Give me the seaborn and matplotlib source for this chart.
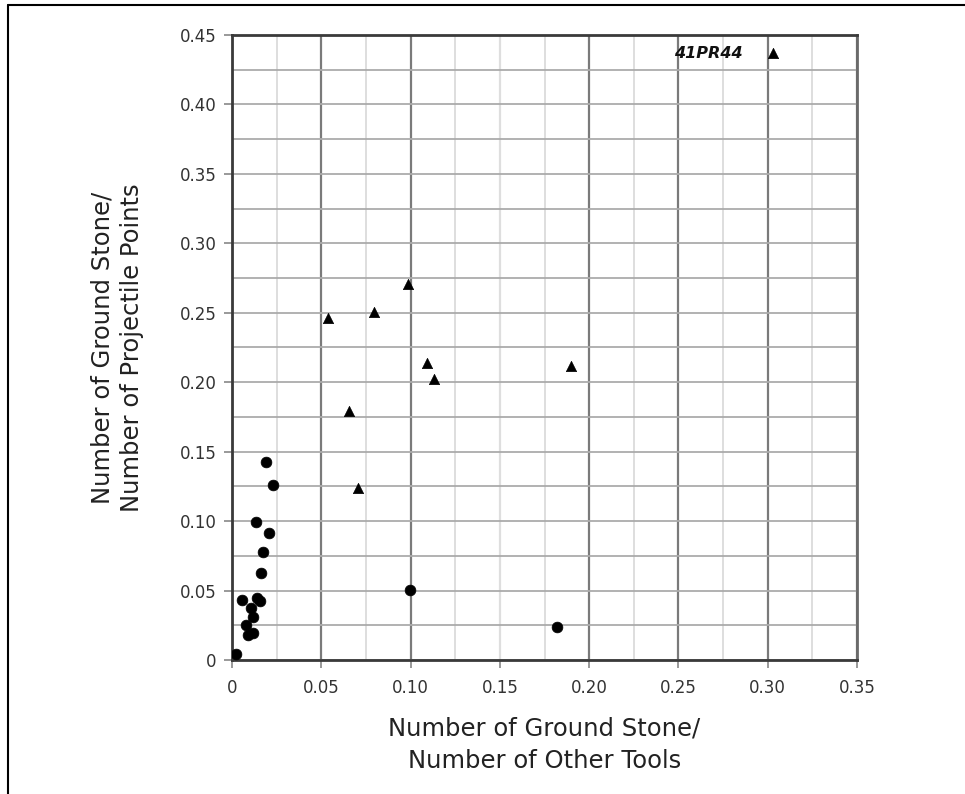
import matplotlib
matplotlib.use("Agg")
import matplotlib.pyplot as plt
import seaborn as sns
import pandas as pd
from matplotlib.lines import Line2D

# Circles (sites with low ratio)
circle_x = [0.019, 0.023, 0.0134, 0.0209, 0.0175, 0.0162, 0.0058, 0.0141, 0.0157,
            0.0105, 0.0119, 0.0077, 0.0091, 0.0119, 0.0022, 0.0996, 0.182]
circle_y = [0.1425, 0.126, 0.0996, 0.0912, 0.0775, 0.0624, 0.0432, 0.0444, 0.0425,
            0.0372, 0.0307, 0.0252, 0.018, 0.0192, 0.0043, 0.0504, 0.024]

# Triangles
tri_x = [0.0535, 0.0796, 0.0986, 0.1094, 0.1131, 0.190, 0.0654, 0.0703, 0.3028]
tri_y = [0.246, 0.2508, 0.2705, 0.2136, 0.2023, 0.2117, 0.1793, 0.124, 0.4368]

label_text = "41PR44"
label_index = 8

x_ticks = [0, 0.05, 0.10, 0.15, 0.20, 0.25, 0.30, 0.35]
x_tick_labels = ["0", "0.05", "0.10", "0.15", "0.20", "0.25", "0.30", "0.35"]
y_ticks = [0, 0.05, 0.10, 0.15, 0.20, 0.25, 0.30, 0.35, 0.40, 0.45]
y_tick_labels = ["0", "0.05", "0.10", "0.15", "0.20", "0.25", "0.30", "0.35", "0.40", "0.45"]

sns.set_theme(style="white")
plt.rcParams['font.family'] = ['DejaVu Sans']

fig = plt.figure(figsize=(9.65, 7.94), dpi=100)
ax = fig.add_axes([0.2404, 0.1688, 0.6477, 0.7872])

df_c = pd.DataFrame({"x": circle_x, "y": circle_y})
df_t = pd.DataFrame({"x": tri_x, "y": tri_y})

sns.scatterplot(data=df_c, x="x", y="y", marker="o", s=60, color="black",
                edgecolor="black", linewidth=0.5, ax=ax, zorder=5)
sns.scatterplot(data=df_t, x="x", y="y", marker="^", s=55, color="black",
                edgecolor="black", linewidth=0.5, ax=ax, zorder=5)

ax.annotate(label_text, xy=(tri_x[label_index], tri_y[label_index]),
            xytext=(-22, 0), textcoords="offset points", ha="right", va="center",
            fontsize=11.5, style="italic", fontweight="semibold", color="#111111")

ax.set_xlim(0, 0.35)
ax.set_ylim(0, 0.45)
ax.set_xticks(x_ticks)
ax.set_xticklabels(x_tick_labels)
ax.set_yticks(y_ticks)
ax.set_yticklabels(y_tick_labels)
ax.set_xticks([0.025 + 0.05 * i for i in range(7)], minor=True)
ax.set_yticks([0.025 + 0.05 * i for i in range(9)], minor=True)

ax.tick_params(axis="both", which="major", length=6, width=1.2, color="#888888",
               labelsize=12, labelcolor="#333333", direction="out")
ax.tick_params(axis="x", which="major", pad=8, bottom=True)
ax.tick_params(axis="y", which="major", pad=5, left=True)
ax.tick_params(which="minor", length=0)

ax.grid(False)
ax.xaxis.grid(True, which="major", color="#7a7a7a", linewidth=1.6)
ax.xaxis.grid(True, which="minor", color="#dedede", linewidth=1.4)
ax.yaxis.grid(True, which="both", color="#ababab", linewidth=1.3)
ax.set_axisbelow(True)
# the 0.15 vertical line is drawn lighter in the original
for gl, t in zip(ax.get_xgridlines(), x_ticks):
    if abs(t - 0.15) < 1e-9:
        gl.set_color("#dedede")

for side in ["left", "bottom", "top"]:
    ax.spines[side].set_color("#3a3a3a")
    ax.spines[side].set_linewidth(2)
ax.spines["right"].set_color("#6a6a6a")
ax.spines["right"].set_linewidth(2)

ax.set_xlabel("Number of Ground Stone/\nNumber of Other Tools", fontsize=17.5,
              color="#222222", labelpad=14, linespacing=1.45)
ax.set_ylabel("Number of Ground Stone/\nNumber of Projectile Points", fontsize=17.5,
              color="#222222", labelpad=26, linespacing=1.3)

# partial frame around the figure (top and left edges)
fig.add_artist(Line2D([8 / 965, 1.0], [1 - 5 / 794, 1 - 5 / 794],
                      transform=fig.transFigure, color="black", linewidth=1.5))
fig.add_artist(Line2D([8 / 965, 8 / 965], [0, 1 - 5 / 794],
                      transform=fig.transFigure, color="black", linewidth=1.5))

fig.savefig("out.png", dpi=100)
